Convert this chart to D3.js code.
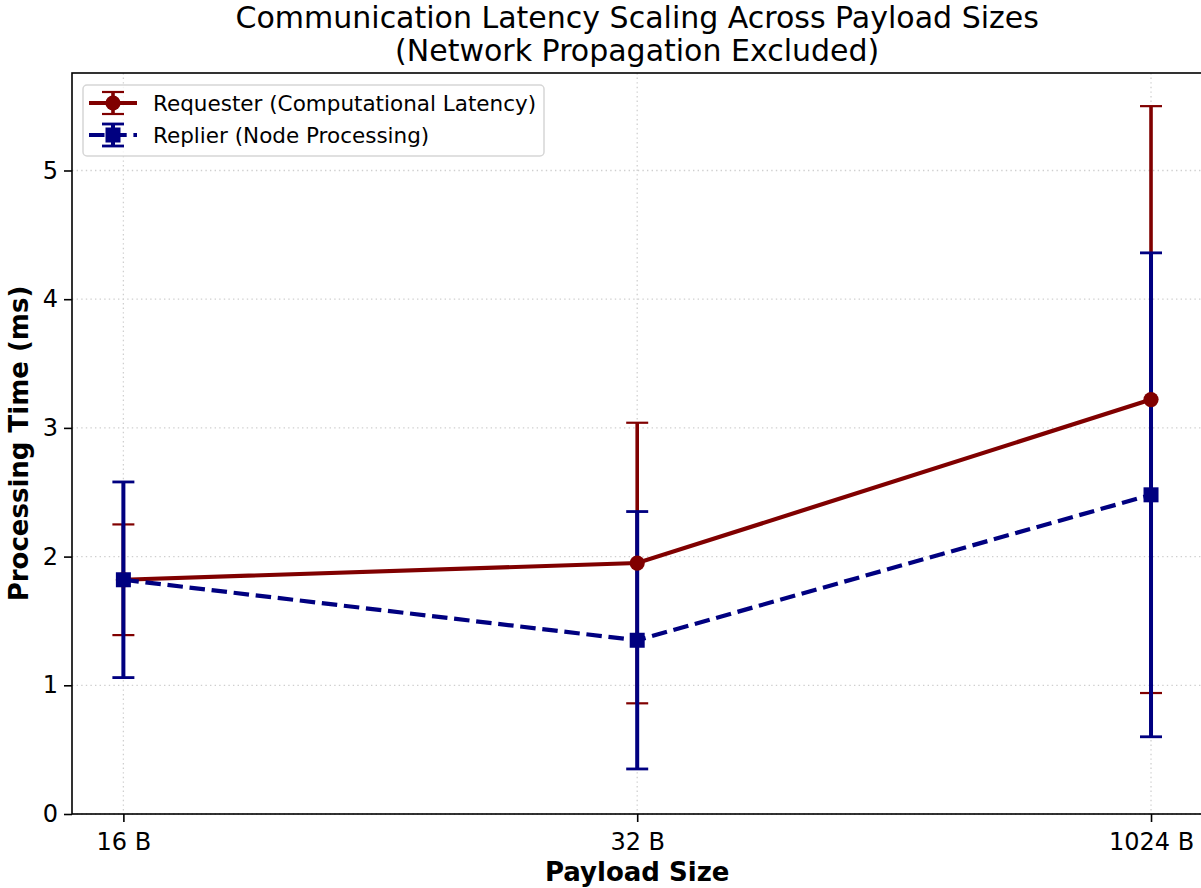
<!DOCTYPE html>
<html>
<head>
<meta charset="utf-8">
<script src="https://cdn.jsdelivr.net/npm/d3@7"></script>
<style>
  html, body { margin: 0; padding: 0; background: #fff; }
  svg { display: block; font-family: "DejaVu Sans", sans-serif; }
</style>
</head>
<body>
<svg id="chart" width="1201" height="888"></svg>
<script>
// Payload sizes on the x axis
const payloads = ["16 B", "32 B", "1024 B"];

// Mean processing time (ms) and standard deviation for each role
const requesterMean = [1.82, 1.95, 3.22];
const requesterErr  = [0.43, 1.09, 2.28];
const replierMean   = [1.82, 1.35, 2.48];
const replierErr    = [0.76, 1.00, 1.88];

const yTicks = [0, 1, 2, 3, 4, 5];

const seriesNames = ["Requester (Computational Latency)", "Replier (Node Processing)"];

const W = 1201, H = 888;
const plot = { left: 72, top: 73, right: 1202.4, bottom: 814 };

const svg = d3.select("#chart");

const x = d3.scaleLinear().domain([-0.1, 2.1]).range([plot.left, plot.right]);
const y = d3.scaleLinear().domain([0, 5.7575]).range([plot.bottom, plot.top]);

const red = "#800000", blue = "#000080";

// Grid lines
const grid = svg.append("g").attr("class", "grid");
grid.selectAll("line.gx").data(payloads).join("line")
  .attr("x1", (d, i) => x(i)).attr("x2", (d, i) => x(i))
  .attr("y1", plot.top).attr("y2", plot.bottom)
  .attr("stroke", "#cfcfcf").attr("stroke-width", 1.3).attr("stroke-dasharray", "1.4,3.2");
grid.selectAll("line.gy").data(yTicks).join("line")
  .attr("x1", plot.left).attr("x2", plot.right)
  .attr("y1", d => y(d)).attr("y2", d => y(d))
  .attr("stroke", "#cfcfcf").attr("stroke-width", 1.3).attr("stroke-dasharray", "1.4,3.2");

// Error bars
function errorBars(mean, err, color, lw, capw) {
  const g = svg.append("g");
  mean.forEach((m, i) => {
    const cx = x(i);
    g.append("line").attr("x1", cx).attr("x2", cx)
      .attr("y1", y(m - err[i])).attr("y2", y(m + err[i]))
      .attr("stroke", color).attr("stroke-width", lw);
    [m - err[i], m + err[i]].forEach(v => {
      g.append("line").attr("x1", cx - 11).attr("x2", cx + 11)
        .attr("y1", y(v)).attr("y2", y(v))
        .attr("stroke", color).attr("stroke-width", capw);
    });
  });
}
errorBars(requesterMean, requesterErr, red, 3.6, 2.2);
errorBars(replierMean, replierErr, blue, 4, 2.8);

const line = d3.line().x((d, i) => x(i)).y(d => y(d));

// Requester line + circle markers
svg.append("path").datum(requesterMean).attr("d", line)
  .attr("fill", "none").attr("stroke", red).attr("stroke-width", 4.2);
svg.selectAll("circle.req").data(requesterMean).join("circle")
  .attr("cx", (d, i) => x(i)).attr("cy", d => y(d)).attr("r", 7.6).attr("fill", red);

// Replier dashed line + square markers
svg.append("path").datum(replierMean).attr("d", line)
  .attr("fill", "none").attr("stroke", blue).attr("stroke-width", 4.2)
  .attr("stroke-dasharray", "15.5,6.7");
svg.selectAll("rect.rep").data(replierMean).join("rect")
  .attr("x", (d, i) => x(i) - 7.5).attr("y", d => y(d) - 7.5)
  .attr("width", 15).attr("height", 15).attr("fill", blue);

// Axes
const xAxis = d3.axisBottom(x).tickValues([0, 1, 2]).tickFormat(i => payloads[i])
  .tickSizeInner(8).tickSizeOuter(0).tickPadding(6);
const gx = svg.append("g").attr("transform", `translate(0,${plot.bottom})`).call(xAxis);
const yAxis = d3.axisLeft(y).tickValues(yTicks).tickFormat(d3.format("d"))
  .tickSizeInner(8).tickSizeOuter(0).tickPadding(6);
const gy = svg.append("g").attr("transform", `translate(${plot.left},0)`).call(yAxis);
[gx, gy].forEach(g => {
  g.selectAll(".domain").remove();
  g.selectAll(".tick line").attr("stroke", "#000").attr("stroke-width", 1.6);
  g.selectAll(".tick text").attr("fill", "#000").style("font-size", "24px")
    .style("font-family", "DejaVu Sans, sans-serif");
});
gx.selectAll(".tick text").attr("dy", "0.92em");

// Spines
svg.append("rect").attr("x", plot.left).attr("y", plot.top)
  .attr("width", plot.right - plot.left).attr("height", plot.bottom - plot.top)
  .attr("fill", "none").attr("stroke", "#000").attr("stroke-width", 1.6);

// Titles
const cxPlot = (plot.left + plot.right) / 2;
svg.append("text").attr("x", cxPlot).attr("y", 28).attr("text-anchor", "middle")
  .style("font-size", "30px").text("Communication Latency Scaling Across Payload Sizes");
svg.append("text").attr("x", cxPlot).attr("y", 61).attr("text-anchor", "middle")
  .style("font-size", "30px").text("(Network Propagation Excluded)");

svg.append("text").attr("x", cxPlot).attr("y", 881).attr("text-anchor", "middle")
  .style("font-size", "26px").style("font-weight", "bold").text("Payload Size");
svg.append("text").attr("transform", `translate(28,${(plot.top + plot.bottom) / 2}) rotate(-90)`)
  .attr("text-anchor", "middle").style("font-size", "26px").style("font-weight", "bold")
  .text("Processing Time (ms)");

// Legend
const lg = svg.append("g");
lg.append("rect").attr("x", 83).attr("y", 85).attr("width", 461).attr("height", 71)
  .attr("rx", 4).attr("fill", "#fff").attr("fill-opacity", 0.8)
  .attr("stroke", "#d6d6d6").attr("stroke-width", 1.5);
const legendItems = [
  { name: seriesNames[0], color: red, marker: "circle", dash: null, ey: 103, lw: 3.6, cw: 2.2 },
  { name: seriesNames[1], color: blue, marker: "square", dash: "15.5,6.7", ey: 135, lw: 4, cw: 2.8 }
];
legendItems.forEach(it => {
  const g = lg.append("g");
  g.append("line").attr("x1", 113).attr("x2", 113).attr("y1", it.ey - 11).attr("y2", it.ey + 11)
    .attr("stroke", it.color).attr("stroke-width", it.lw);
  [it.ey - 11, it.ey + 11].forEach(v => g.append("line").attr("x1", 102).attr("x2", 124)
    .attr("y1", v).attr("y2", v).attr("stroke", it.color).attr("stroke-width", it.cw));
  g.append("line").attr("x1", 89).attr("x2", 137).attr("y1", it.ey).attr("y2", it.ey)
    .attr("stroke", it.color).attr("stroke-width", 4.2)
    .attr("stroke-dasharray", it.dash ? "15.5,6.7" : null);
  if (it.marker === "circle") {
    g.append("circle").attr("cx", 113).attr("cy", it.ey).attr("r", 7.6).attr("fill", it.color);
  } else {
    g.append("rect").attr("x", 105.5).attr("y", it.ey - 7.5).attr("width", 15).attr("height", 15)
      .attr("fill", it.color);
  }
  g.append("text").attr("x", 153).attr("y", it.ey + 7.5).style("font-size", "21.5px").text(it.name);
});
</script>
</body>
</html>
